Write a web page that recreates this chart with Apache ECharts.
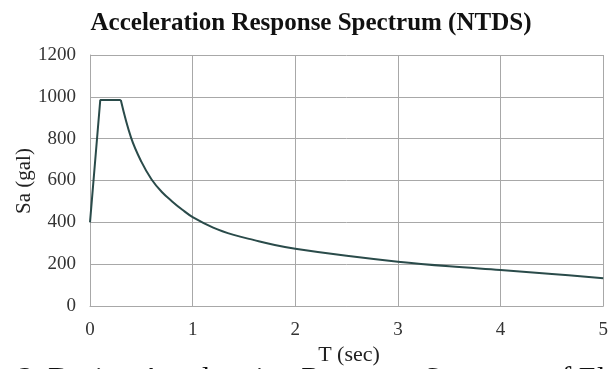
<!DOCTYPE html>
<html>
<head>
<meta charset="utf-8">
<script src="https://cdn.jsdelivr.net/npm/echarts@6/dist/echarts.min.js"></script>
<style>
html,body{margin:0;padding:0;background:#fff;}
#c{width:611px;height:369px;}
</style>
</head>
<body>
<div id="c"></div>
<script>
// Data
const rampPeriods = [0, 0.1, 0.3];
const rampValues = [400, 985, 985];
const decayPeriods = [0.3, 0.4, 0.5, 0.6, 0.7, 0.8, 0.9, 1.0, 1.2, 1.4, 1.6, 1.8, 2.0, 2.5, 3.0, 3.5, 4.0, 4.5, 5.0];
const decayValues = [985, 805, 690, 605, 545, 500, 460, 425, 375, 340, 315, 292, 274, 240, 212, 190, 172, 153, 133];
const xTicks = [0, 1, 2, 3, 4, 5];
const yTicks = [0, 200, 400, 600, 800, 1000, 1200];
const titleText = 'Acceleration Response Spectrum (NTDS)';
const xName = 'T (sec)';
const yName = 'Sa (gal)';
const captionText = '3. Design Acceleration Response Spectrum of El C';

const serif = '"Liberation Serif", "Times New Roman", serif';
const lineColor = '#2a4b4a';
const gridColor = '#a8a8a8';

const chart = echarts.init(document.getElementById('c'), null, {renderer: 'canvas'});
chart.setOption({
  animation: false,
  backgroundColor: '#fff',
  grid: {left: 90, right: 3, top: 55, bottom: 63, containLabel: false},
  graphic: [
    {type: 'text', x: 311, y: 24, style: {text: titleText, font: 'bold 25px ' + serif, fill: '#111', textAlign: 'center', textVerticalAlign: 'middle'}},
    {type: 'text', x: 349, y: 355, style: {text: xName, font: '22px ' + serif, fill: '#222', textAlign: 'center', textVerticalAlign: 'middle'}},
    {type: 'text', x: 24, y: 181, rotation: Math.PI / 2, style: {text: yName, font: '21px ' + serif, fill: '#222', textAlign: 'center', textVerticalAlign: 'middle'}},
    {type: 'text', x: 18, y: 364, style: {text: captionText, font: '30px ' + serif, fill: '#111', textAlign: 'left', textVerticalAlign: 'top'}}
  ],
  xAxis: {
    type: 'value', min: xTicks[0], max: xTicks[xTicks.length - 1], interval: 1,
    axisLine: {show: true, lineStyle: {color: gridColor, width: 1}},
    axisTick: {show: false},
    axisLabel: {color: '#333', fontFamily: serif, fontSize: 19, margin: 15, formatter: v => String(v)},
    splitLine: {show: true, lineStyle: {color: gridColor, width: 1}}
  },
  yAxis: {
    type: 'value', min: yTicks[0], max: yTicks[yTicks.length - 1], interval: 200,
    axisLine: {show: true, lineStyle: {color: gridColor, width: 1}},
    axisTick: {show: false},
    axisLabel: {color: '#333', fontFamily: serif, fontSize: 19, margin: 14, formatter: v => String(v)},
    splitLine: {show: true, lineStyle: {color: gridColor, width: 1}}
  },
  series: [
    {type: 'line', data: rampPeriods.map((t, i) => [t, rampValues[i]]), showSymbol: false, smooth: false,
     lineStyle: {color: lineColor, width: 2}},
    {type: 'line', data: decayPeriods.map((t, i) => [t, decayValues[i]]), showSymbol: false, smooth: 0.4,
     lineStyle: {color: lineColor, width: 2}}
  ]
});
</script>
</body>
</html>
